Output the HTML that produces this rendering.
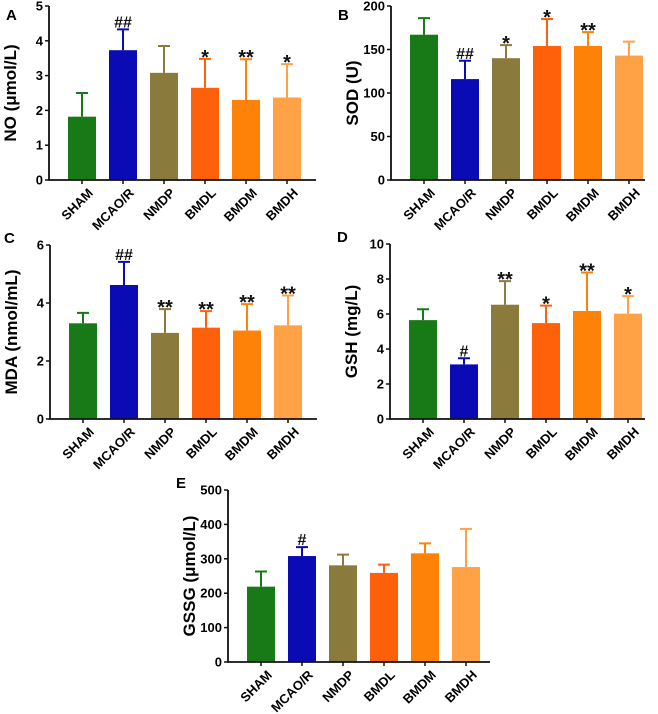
<!DOCTYPE html>
<html><head><meta charset="utf-8"><style>
html,body{margin:0;padding:0;background:#fff}
svg{display:block;font-family:"Liberation Sans",Arial,sans-serif}
</style></head><body>
<svg id="fig" width="658" height="714" viewBox="0 0 658 714" xmlns="http://www.w3.org/2000/svg"></svg>
<script>
const categories = ["SHAM","MCAO/R","NMDP","BMDL","BMDM","BMDH"];
const colors = ["#177a17","#0b0bb5","#8a7a3c","#ff600a","#ff8208","#ffa245"];
const noMeans = [1.82,3.73,3.08,2.65,2.30,2.37];
const noErrTop = [2.50,4.33,3.85,3.48,3.47,3.33];
const noMarks = ["","##","","*","**","*"];
const sodMeans = [167,116,140,154,154,143];
const sodErrTop = [186,137,155,185,170,159];
const sodMarks = ["","##","*","*","**",""];
const mdaMeans = [3.30,4.62,2.97,3.15,3.05,3.23];
const mdaErrTop = [3.66,5.42,3.79,3.72,3.96,4.26];
const mdaMarks = ["","##","**","**","**","**"];
const gshMeans = [5.65,3.12,6.53,5.48,6.17,6.02];
const gshErrTop = [6.27,3.47,7.88,6.48,8.37,7.02];
const gshMarks = ["","#","**","*","**","*"];
const gssgMeans = [219,308,281,259,316,276];
const gssgErrTop = [263,334,312,283,345,387];
const gssgMarks = ["","#","","","",""];
const noTicks = [0,1,2,3,4,5];
const sodTicks = [0,50,100,150,200];
const mdaTicks = [0,2,4,6];
const gshTicks = [0,2,4,6,8,10];
const gssgTicks = [0,100,200,300,400,500];

const NS="http://www.w3.org/2000/svg";
const svg=document.getElementById('fig');
function el(tag,attrs,parent,text){const e=document.createElementNS(NS,tag);for(const k in attrs)e.setAttribute(k,attrs[k]);if(text!==undefined)e.textContent=text;(parent||svg).appendChild(e);return e;}

function panel(id,letter,lx,ly,ax,y0,yTop,xEnd,ticks,means,errs,marks,ylabel){
  const g=el('g',{});
  
  
  const max=ticks[ticks.length-1];
  const ys=v=>y0-(v/max)*(y0-yTop);
  const L=el('text',{x:lx,y:ly,'font-size':15,'font-weight':'bold'},g,letter);
  
  
  means.forEach((m,i)=>{
    const x=ax+19+i*41, w=28, cx=x+w/2;
    const b=el('rect',{x:x,y:ys(m),width:w,height:y0-ys(m),fill:colors[i]},g);
    
    
    const e=el('path',{d:`M${cx} ${ys(m)}V${ys(errs[i])}M${cx-6} ${ys(errs[i])}H${cx+6}`,stroke:colors[i],'stroke-width':2,fill:'none'},g);
    
    
    if(marks[i]){
      const s=marks[i][0]==='#';
      const t=el('text',{x:cx,y:ys(errs[i])+(s?-2:5),'text-anchor':'middle','font-size':s?16:20,'font-weight':'bold',fill:'#111','font-family':'"Liberation Sans",Arial,sans-serif'},g,marks[i]);
      
      
    }
    const lab=el('text',{transform:`translate(${cx+5},${y0+7}) rotate(-45)`,'text-anchor':'end','font-size':13,'font-weight':'bold','dominant-baseline':'hanging'},g,categories[i]);
    
    
    el('line',{x1:cx,x2:cx,y1:y0,y2:y0+4,stroke:'#111','stroke-width':1.5},g);
  });
  ticks.forEach(t=>{
    el('line',{x1:ax-4,x2:ax,y1:ys(t),y2:ys(t),stroke:'#111','stroke-width':1.5},g);
    const tl=el('text',{x:ax-6,y:ys(t)+4.5,'text-anchor':'end','font-size':13,'font-weight':'bold'},g,String(t));
    
    
  });
  const axes=el('path',{d:`M${ax} ${yTop}V${y0}H${xEnd}`,stroke:'#111','stroke-width':1.8,fill:'none'},g);
  
  
  const yl=el('text',{transform:`translate(${ax-33},${(y0+yTop)/2}) rotate(-90)`,'text-anchor':'middle','font-size':17,'font-weight':'bold'},g,ylabel);
  
  
}
panel('a','A',6,20,49,180,6,316,noTicks,noMeans,noErrTop,noMarks,'NO (μmol/L)');
panel('b','B',338,20,391,180,6,645,sodTicks,sodMeans,sodErrTop,sodMarks,'SOD (U)');
panel('c','C',4,243,50,419,245,317,mdaTicks,mdaMeans,mdaErrTop,mdaMarks,'MDA (nmol/mL)');
panel('d','D',337,242,390,419,244,645,gshTicks,gshMeans,gshErrTop,gshMarks,'GSH (mg/L)');
panel('e','E',176,488,228,662,490,490,gssgTicks,gssgMeans,gssgErrTop,gssgMarks,'GSSG (μmol/L)');
</script>
</body></html>
